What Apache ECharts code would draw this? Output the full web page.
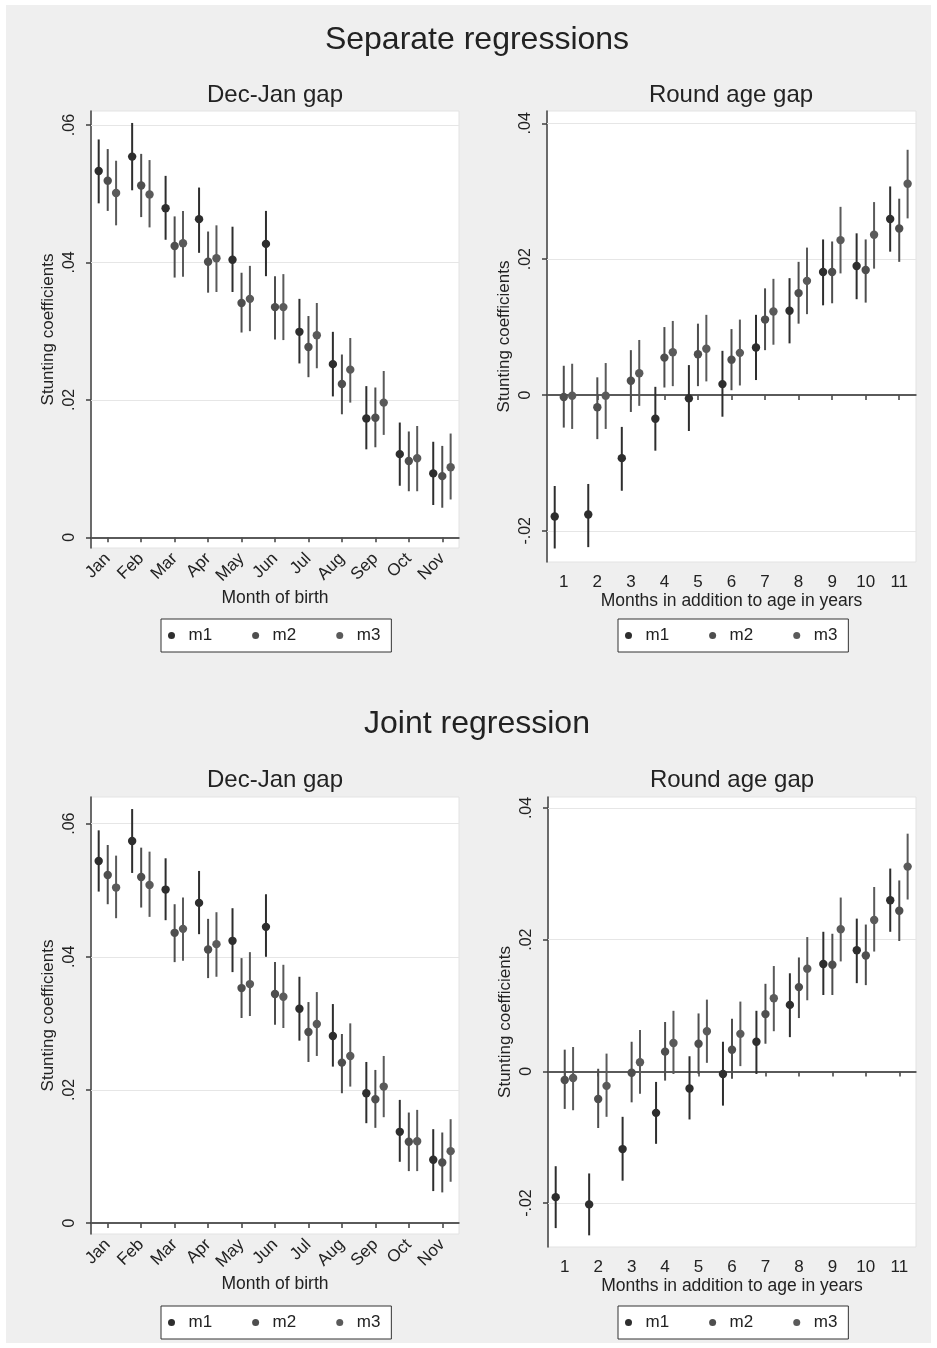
<!DOCTYPE html>
<html>
<head>
<meta charset="utf-8">
<script src="https://cdn.jsdelivr.net/npm/echarts@6/dist/echarts.min.js"></script>
<style>
  html, body { margin: 0; padding: 0; background: #ffffff; }
  #chart { width: 937px; height: 1348px; }
</style>
</head>
<body>
<div id="chart"></div>
<script>
// Category labels
const months = ['Jan', 'Feb', 'Mar', 'Apr', 'May', 'Jun', 'Jul', 'Aug', 'Sep', 'Oct', 'Nov'];
const ageMonths = ['1', '2', '3', '4', '5', '6', '7', '8', '9', '10', '11'];
const modelNames = ['m1', 'm2', 'm3'];

// Tick values
const monthTicks = [0, 0.02, 0.04, 0.06];
const ageTicks = [-0.02, 0, 0.02, 0.04];

// Separate regressions: Dec-Jan gap (estimate, lower CI, upper CI)
const sepMonthM1 = [0.0533, 0.0554, 0.0479, 0.0463, 0.0404, 0.0427, 0.0299, 0.0252, 0.0173, 0.0121, 0.0093];
const sepMonthM1Lo = [0.0486, 0.0505, 0.0433, 0.0414, 0.0357, 0.0380, 0.0253, 0.0205, 0.0128, 0.0075, 0.0047];
const sepMonthM1Hi = [0.0579, 0.0603, 0.0526, 0.0509, 0.0452, 0.0475, 0.0347, 0.0299, 0.0220, 0.0167, 0.0139];
const sepMonthM2 = [0.0519, 0.0512, 0.0424, 0.0401, 0.0341, 0.0335, 0.0277, 0.0223, 0.0174, 0.0111, 0.0089];
const sepMonthM2Lo = [0.0475, 0.0466, 0.0378, 0.0356, 0.0298, 0.0288, 0.0233, 0.0179, 0.0131, 0.0067, 0.0043];
const sepMonthM2Hi = [0.0565, 0.0558, 0.0467, 0.0445, 0.0385, 0.0380, 0.0322, 0.0266, 0.0218, 0.0154, 0.0133];
const sepMonthM3 = [0.0501, 0.0499, 0.0428, 0.0406, 0.0347, 0.0335, 0.0294, 0.0244, 0.0196, 0.0115, 0.0102];
const sepMonthM3Lo = [0.0454, 0.0451, 0.0379, 0.0357, 0.0300, 0.0287, 0.0246, 0.0196, 0.0149, 0.0067, 0.0055];
const sepMonthM3Hi = [0.0548, 0.0549, 0.0475, 0.0454, 0.0395, 0.0383, 0.0341, 0.0290, 0.0242, 0.0162, 0.0151];

// Separate regressions: Round age gap
const sepAgeM1 = [-0.0179, -0.0176, -0.0093, -0.0035, -0.0005, 0.0016, 0.0070, 0.0124, 0.0181, 0.0190, 0.0259];
const sepAgeM1Lo = [-0.0226, -0.0224, -0.0141, -0.0082, -0.0053, -0.0032, 0.0022, 0.0076, 0.0132, 0.0141, 0.0211];
const sepAgeM1Hi = [-0.0134, -0.0131, -0.0047, 0.0012, 0.0044, 0.0065, 0.0118, 0.0172, 0.0229, 0.0238, 0.0307];
const sepAgeM2 = [-0.0003, -0.0018, 0.0021, 0.0055, 0.0060, 0.0052, 0.0111, 0.0150, 0.0181, 0.0184, 0.0245];
const sepAgeM2Lo = [-0.0048, -0.0065, -0.0025, 0.0011, 0.0013, 0.0007, 0.0066, 0.0105, 0.0135, 0.0136, 0.0196];
const sepAgeM2Hi = [0.0043, 0.0026, 0.0066, 0.0100, 0.0105, 0.0097, 0.0157, 0.0196, 0.0226, 0.0229, 0.0289];
const sepAgeM3 = [-0.0001, -0.0001, 0.0032, 0.0063, 0.0068, 0.0062, 0.0123, 0.0168, 0.0228, 0.0236, 0.0311];
const sepAgeM3Lo = [-0.0050, -0.0050, -0.0016, 0.0013, 0.0020, 0.0014, 0.0074, 0.0119, 0.0179, 0.0186, 0.0260];
const sepAgeM3Hi = [0.0046, 0.0047, 0.0081, 0.0109, 0.0118, 0.0111, 0.0171, 0.0217, 0.0277, 0.0284, 0.0361];

// Joint regression: Dec-Jan gap
const jointMonthM1 = [0.0544, 0.0574, 0.0501, 0.0481, 0.0424, 0.0445, 0.0322, 0.0281, 0.0195, 0.0137, 0.0095];
const jointMonthM1Lo = [0.0498, 0.0526, 0.0455, 0.0434, 0.0377, 0.0400, 0.0274, 0.0235, 0.0150, 0.0092, 0.0048];
const jointMonthM1Hi = [0.0590, 0.0622, 0.0548, 0.0529, 0.0473, 0.0494, 0.0370, 0.0329, 0.0242, 0.0185, 0.0141];
const jointMonthM2 = [0.0523, 0.0520, 0.0436, 0.0411, 0.0353, 0.0344, 0.0287, 0.0241, 0.0186, 0.0122, 0.0091];
const jointMonthM2Lo = [0.0479, 0.0474, 0.0392, 0.0368, 0.0308, 0.0298, 0.0242, 0.0195, 0.0143, 0.0078, 0.0046];
const jointMonthM2Hi = [0.0568, 0.0564, 0.0479, 0.0457, 0.0398, 0.0392, 0.0332, 0.0284, 0.0230, 0.0166, 0.0136];
const jointMonthM3 = [0.0504, 0.0508, 0.0442, 0.0419, 0.0359, 0.0340, 0.0299, 0.0251, 0.0205, 0.0123, 0.0108];
const jointMonthM3Lo = [0.0458, 0.0460, 0.0394, 0.0370, 0.0311, 0.0293, 0.0251, 0.0205, 0.0159, 0.0078, 0.0062];
const jointMonthM3Hi = [0.0552, 0.0558, 0.0489, 0.0467, 0.0407, 0.0388, 0.0347, 0.0300, 0.0251, 0.0170, 0.0156];

// Joint regression: Round age gap
const jointAgeM1 = [-0.0191, -0.0202, -0.0118, -0.0063, -0.0026, -0.0004, 0.0045, 0.0101, 0.0163, 0.0184, 0.0260];
const jointAgeM1Lo = [-0.0238, -0.0249, -0.0166, -0.0110, -0.0073, -0.0052, -0.0004, 0.0052, 0.0116, 0.0134, 0.0212];
const jointAgeM1Hi = [-0.0144, -0.0155, -0.0069, -0.0016, 0.0023, 0.0045, 0.0092, 0.0149, 0.0212, 0.0232, 0.0308];
const jointAgeM2 = [-0.0013, -0.0042, -0.0002, 0.0030, 0.0042, 0.0033, 0.0087, 0.0128, 0.0162, 0.0176, 0.0244];
const jointAgeM2Lo = [-0.0057, -0.0086, -0.0047, -0.0014, -0.0004, -0.0011, 0.0042, 0.0081, 0.0116, 0.0131, 0.0198];
const jointAgeM2Hi = [0.0033, 0.0004, 0.0045, 0.0075, 0.0088, 0.0080, 0.0133, 0.0173, 0.0209, 0.0223, 0.0290];
const jointAgeM3 = [-0.0010, -0.0022, 0.0014, 0.0043, 0.0061, 0.0057, 0.0111, 0.0156, 0.0216, 0.0230, 0.0311];
const jointAgeM3Lo = [-0.0059, -0.0069, -0.0034, -0.0004, 0.0013, 0.0008, 0.0061, 0.0108, 0.0167, 0.0182, 0.0261];
const jointAgeM3Hi = [0.0037, 0.0027, 0.0063, 0.0092, 0.0109, 0.0106, 0.0160, 0.0204, 0.0264, 0.0280, 0.0361];

const FONT = '"Liberation Sans", Arial, sans-serif';
const TEXT = '#222222';
const AXIS = '#3f3f3f';
const modelColors = ['#2e2e2e', '#4e4e4e', '#5a5a5a'];
const dodge = [-0.27, 0, 0.25];   // horizontal shift of each model within a category band

const panels = [
  {
    grid: { left: 91, top: 111, width: 368, height: 437 },
    cats: months, yMin: -0.00156, yMax: 0.06204, ticks: monthTicks, rotate: 45,
    xName: 'Month of birth', nameGap: 41, labelMargin: 8,
    legendPos: { left: 161, top: 619 },
    series: [[sepMonthM1, sepMonthM1Lo, sepMonthM1Hi], [sepMonthM2, sepMonthM2Lo, sepMonthM2Hi], [sepMonthM3, sepMonthM3Lo, sepMonthM3Hi]]
  },
  {
    grid: { left: 547, top: 111, width: 369, height: 451 },
    cats: ageMonths, yMin: -0.02459, yMax: 0.04181, ticks: ageTicks, rotate: 0,
    xName: 'Months in addition to age in years', nameGap: 28, labelMargin: 12,
    legendPos: { left: 618, top: 619 },
    series: [[sepAgeM1, sepAgeM1Lo, sepAgeM1Hi], [sepAgeM2, sepAgeM2Lo, sepAgeM2Hi], [sepAgeM3, sepAgeM3Lo, sepAgeM3Hi]]
  },
  {
    grid: { left: 91, top: 797, width: 368, height: 437 },
    cats: months, yMin: -0.00165, yMax: 0.06401, ticks: monthTicks, rotate: 45,
    xName: 'Month of birth', nameGap: 41, labelMargin: 8,
    legendPos: { left: 161, top: 1306 },
    series: [[jointMonthM1, jointMonthM1Lo, jointMonthM1Hi], [jointMonthM2, jointMonthM2Lo, jointMonthM2Hi], [jointMonthM3, jointMonthM3Lo, jointMonthM3Hi]]
  },
  {
    grid: { left: 548, top: 797, width: 368, height: 450 },
    cats: ageMonths, yMin: -0.02667, yMax: 0.04167, ticks: ageTicks, rotate: 0,
    xName: 'Months in addition to age in years', nameGap: 28, labelMargin: 12,
    legendPos: { left: 618, top: 1306 },
    series: [[jointAgeM1, jointAgeM1Lo, jointAgeM1Hi], [jointAgeM2, jointAgeM2Lo, jointAgeM2Hi], [jointAgeM3, jointAgeM3Lo, jointAgeM3Hi]]
  }
];

// Stata-style tick text: ".02", "-.02", "0"
function stataNum(v) {
  if (Math.abs(v) < 1e-9) return '0';
  return v.toFixed(2).replace(/^(-?)0\./, '$1.');
}

const grids = [], xAxes = [], yAxes = [], series = [], legends = [];

panels.forEach((p, i) => {
  grids.push(Object.assign({
    show: true, backgroundColor: '#ffffff', borderColor: '#e3e3e3', borderWidth: 1, containLabel: false
  }, p.grid));

  xAxes.push({
    gridIndex: i, type: 'category', data: p.cats, boundaryGap: true,
    axisLine: { show: true, lineStyle: { color: AXIS, width: 1.5 } },
    axisTick: { show: true, alignWithLabel: true, length: 5, lineStyle: { color: AXIS, width: 1.5 } },
    axisLabel: { interval: 0, rotate: p.rotate, margin: p.labelMargin, fontSize: 17, color: TEXT, fontFamily: FONT },
    splitLine: { show: false },
    name: p.xName, nameLocation: 'middle', nameGap: p.nameGap,
    nameTextStyle: { fontSize: 17.5, color: TEXT, fontFamily: FONT }
  });

  yAxes.push({
    gridIndex: i, type: 'value', min: p.yMin, max: p.yMax,
    axisLine: { show: true, lineStyle: { color: AXIS, width: 1.5 } },
    axisTick: { show: true, customValues: p.ticks, length: 5, lineStyle: { color: AXIS, width: 1.5 } },
    axisLabel: { customValues: p.ticks, rotate: 90, margin: 13, fontSize: 16, color: TEXT, fontFamily: FONT, formatter: stataNum },
    splitLine: { show: false },
    name: 'Stunting coefficients', nameLocation: 'middle', nameRotate: 90, nameGap: 34,
    nameTextStyle: { fontSize: 17, color: TEXT, fontFamily: FONT }
  });

  p.series.forEach((s, m) => {
    const color = modelColors[m];
    const off = dodge[m];
    const item = {
      type: 'custom', name: modelNames[m], xAxisIndex: i, yAxisIndex: i, z: 3,
      itemStyle: { color: color },
      encode: { x: 0, y: 1 },
      clip: false,
      data: s[0].map((v, k) => [k, v, s[1][k], s[2][k]]),
      renderItem: function (params, api) {
        const k = api.value(0);
        const pt = api.coord([k, api.value(1)]);
        const lo = api.coord([k, api.value(2)]);
        const hi = api.coord([k, api.value(3)]);
        const dx = off * api.size([1, 0])[0];
        return {
          type: 'group',
          children: [
            { type: 'line', shape: { x1: lo[0] + dx, y1: lo[1], x2: hi[0] + dx, y2: hi[1] },
              style: { stroke: color, lineWidth: 2 } },
            { type: 'circle', shape: { cx: pt[0] + dx, cy: pt[1], r: 4.2 },
              style: { fill: color } }
          ]
        };
      }
    };
    if (m === 0) {
      // horizontal grid lines at the labelled ticks, plus the reference line at zero
      item.markLine = {
        silent: true, symbol: 'none', z: 1, animation: false,
        label: { show: false },
        emphasis: { disabled: true },
        data: p.ticks.filter(t => t !== 0).map(t => ({ yAxis: t, lineStyle: { color: '#e6e6e6', width: 1, type: 'solid' } }))
          .concat([{ yAxis: 0, lineStyle: { color: '#555555', width: 1.5, type: 'solid' } }])
      };
    }
    series.push(item);
  });

  legends.push({
    data: modelNames, left: p.legendPos.left, top: p.legendPos.top, orient: 'horizontal',
    icon: 'circle', itemWidth: 8, itemHeight: 7, itemGap: 40,
    padding: [8, 11, 8, 7], backgroundColor: '#ffffff', borderColor: '#333333', borderWidth: 1, borderRadius: 0,
    selectedMode: false,
    textStyle: { fontSize: 17, color: TEXT, fontFamily: FONT, padding: [0, 0, 0, 8] }
  });
});

function heading(text, x, cy, size) {
  return {
    text: text, left: x, top: cy - size / 2, textAlign: 'center', padding: 0,
    textStyle: { fontSize: size, fontWeight: 'normal', color: TEXT, fontFamily: FONT }
  };
}

const chart = echarts.init(document.getElementById('chart'), null, { renderer: 'canvas' });
chart.setOption({
  animation: false,
  backgroundColor: '#ffffff',
  graphic: [{
    type: 'rect', z: -100, silent: true,
    shape: { x: 6, y: 5, width: 925, height: 1338 },
    style: { fill: '#efefef' }
  }],
  title: [
    heading('Separate regressions', 477, 40, 32),
    heading('Dec-Jan gap', 275, 95, 24),
    heading('Round age gap', 731, 95, 24),
    heading('Joint regression', 477, 724, 32),
    heading('Dec-Jan gap', 275, 780, 24),
    heading('Round age gap', 732, 780, 24)
  ],
  legend: legends,
  grid: grids,
  xAxis: xAxes,
  yAxis: yAxes,
  series: series
});
</script>
</body>
</html>
